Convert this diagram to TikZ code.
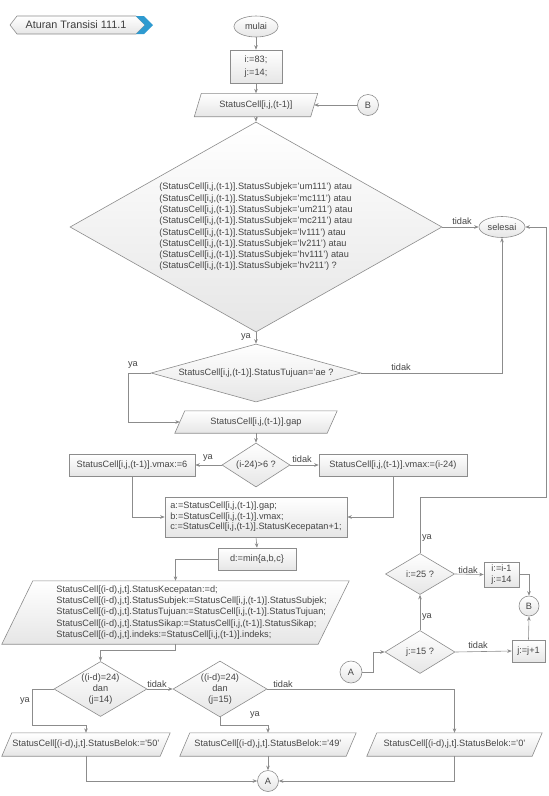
\documentclass[tikz,border=0pt]{standalone}
\usepackage{fontspec}
\setmainfont{Liberation Sans}
\usetikzlibrary{shapes.geometric,arrows.meta,backgrounds}
\definecolor{lc}{HTML}{8C8C8C}
\definecolor{tx}{HTML}{454545}
\definecolor{fl}{HTML}{E6E6E6}
\definecolor{bl}{HTML}{2E9AD0}
\newcommand{\fs}{\fontsize{9.2}{11.3}\selectfont}
\begin{document}
\begin{tikzpicture}[x=1pt,y=-1pt,
  base/.style={draw=lc, line width=0.6pt, top color=white, bottom color=fl, text=tx, font=\fs, inner sep=0pt, align=center},
  boxn/.style 2 args={base, rectangle, minimum width=#1, minimum height=#2},
  term/.style 2 args={base, ellipse, minimum width=#1, minimum height=#2},
  con/.style={base, circle, minimum size=#1},
  dia/.style n args={3}{base, diamond, minimum width=#1, minimum height=#2, aspect=#3},
  paran/.style 2 args={text=tx, font=\fs, inner sep=0pt, align=center, minimum width=#1, minimum height=#2},
  parafill/.style={draw=lc, line width=0.6pt, top color=white, bottom color=fl},
  conn/.style={draw=lc, line width=0.6pt},
  arr/.style={conn, -{Stealth[length=4.5pt,width=3.6pt]}},
  lab/.style={text=tx, font=\fs, inner sep=0pt},
]
\useasboundingbox (0,0) rectangle (549,796);

% title tag
\node[text=tx!90!black, font=\fontsize{10.8}{12}\selectfont, inner sep=0pt] (title) at (76,25) {Aturan Transisi 111.1};

% main column
\node[term={44}{21}] (mulai) at (256,26.5) {mulai};
\node[boxn={52}{33}, font=\fontsize{9.2}{12.5}\selectfont] (init) at (256,66.5) {i:=83;\\j:=14;};
\node[paran={116}{23}] (p0) at (256,105) {StatusCell[i,j,(t-1)]};
\node[con=21] (B1) at (368,105) {B};
\node[dia={372}{210}{1.77}, align=left] (d1) at (256,227) {(StatusCell[i,j,(t-1)].StatusSubjek='um111') atau\\(StatusCell[i,j,(t-1)].StatusSubjek='mc111') atau\\(StatusCell[i,j,(t-1)].StatusSubjek='um211') atau\\(StatusCell[i,j,(t-1)].StatusSubjek='mc211') atau\\(StatusCell[i,j,(t-1)].StatusSubjek='lv111') atau\\(StatusCell[i,j,(t-1)].StatusSubjek='lv211') atau\\(StatusCell[i,j,(t-1)].StatusSubjek='hv111') atau\\(StatusCell[i,j,(t-1)].StatusSubjek='hv211') ?};
\node[term={46}{21}] (sel) at (502,227) {selesai};
\node[dia={210}{58}{3.6}] (d2) at (256,373) {StatusCell[i,j,(t-1)].StatusTujuan='ae ?};
\node[paran={152}{22}] (gap) at (256,422) {StatusCell[i,j,(t-1)].gap};
\node[dia={68}{44}{1.55}] (d3) at (256,465) {(i-24)>6 ?};
\node[boxn={126}{22}] (v6) at (132,465) {StatusCell[i,j,(t-1)].vmax:=6};
\node[boxn={148}{22}] (vi) at (393,465) {StatusCell[i,j,(t-1)].vmax:=(i-24)};
\node[boxn={182}{40}, align=left, font=\fontsize{9.2}{10.5}\selectfont] (abc) at (256,517) {a:=StatusCell[i,j,(t-1)].gap;\\b:=StatusCell[i,j,(t-1)].vmax;\\c:=StatusCell[i,j,(t-1)].StatusKecepatan+1;};
\node[boxn={78}{22}] (dmin) at (257,559) {d:=min\{a,b,c\}};
\node[paran={316}{63}] (bigp) at (175.5,612.5) {\hspace*{32pt}\begin{tabular}{@{}l@{}}StatusCell[(i-d),j,t].StatusKecepatan:=d;\\StatusCell[(i-d),j,t].StatusSubjek:=StatusCell[i,j,(t-1)].StatusSubjek;\\StatusCell[(i-d),j,t].StatusTujuan:=StatusCell[i,j,(t-1)].StatusTujuan;\\StatusCell[(i-d),j,t].StatusSikap:=StatusCell[i,j,(t-1)].StatusSikap;\\StatusCell[(i-d),j,t].indeks:=StatusCell[i,j,(t-1)].indeks;\end{tabular}};
\node[dia={93}{55}{1.66}, font=\fontsize{9.2}{11}\selectfont] (d4) at (100.5,689) {((i-d)=24)\\dan\\(j=14)};
\node[dia={94}{56}{1.66}, font=\fontsize{9.2}{11}\selectfont] (d5) at (220,689) {((i-d)=24)\\dan\\(j=15)};
\node[paran={158}{23}] (p1) at (86,744.5) {StatusCell[(i-d),j,t].StatusBelok:='50'};
\node[paran={166}{23}] (p2) at (268,744.5) {StatusCell[(i-d),j,t].StatusBelok:='49'};
\node[paran={165}{23}] (p3) at (454.5,744.5) {StatusCell[(i-d),j,t].StatusBelok:='0'};
\node[con=21] (A2) at (268,781) {A};

% right loop
\node[dia={69}{41}{1.68}] (i25) at (420,574) {i:=25 ?};
\node[boxn={35}{25}, align=left, font=\fontsize{9.2}{11}\selectfont] (ii) at (501.5,574.5) {i:=i-1\\j:=14};
\node[con=20] (B2) at (529,606) {B};
\node[dia={70}{43}{1.63}] (j15) at (420,652) {j:=15 ?};
\node[boxn={33}{22}] (jj) at (528.5,651) {j:=j+1};
\node[con=22] (A1) at (351,672) {A};

% bend coordinates
\coordinate (k1) at (128,373);
\coordinate (k2) at (175.5,650);
\coordinate (k3) at (32,725);
\coordinate (k4) at (268,725);
\coordinate (kA) at (373,672);
\coordinate (kR) at (546,497);

% background shapes
\begin{scope}[on background layer]
  \foreach \n/\s in {p0/3.5,gap/5,bigp/15.5,p1/5,p2/5,p3/5}{
    \path[parafill] ([xshift=\s pt]\n.north west) -- ([xshift=\s pt]\n.north east) -- ([xshift=-\s pt]\n.south east) -- ([xshift=-\s pt]\n.south west) -- cycle;
  }
  \path[draw=lc, line width=0.6pt, top color=white, bottom color=fl] (10,25) -- (17,16) -- (136,16) -- (145,25) -- (136,34) -- (17,34) -- cycle;
  \path[fill=bl] (136,16) -- (144,16) -- (153,25) -- (144,34) -- (136,34) -- (145,25) -- cycle;
\end{scope}

% connectors
\draw[arr] (mulai.south) -- (init.north);
\draw[arr] (init.south) -- (p0.north);
\draw[arr] (B1.west) -- (p0.east);
\draw[arr] (p0.south) -- (d1.north);
\draw[arr] (d1.east) -- (sel.west);
\draw[arr] (d1.south) -- (d2.north);
\draw[arr] (d2.west) -- (k1) |- (gap.west);
\draw[arr] (d2.east) -| (sel.south);
\draw[arr] (gap.south) -- (d3.north);
\draw[arr] (d3.west) -- (v6.east);
\draw[arr] (d3.east) -- (vi.west);
\draw[arr] (v6.south) |- (abc.west);
\draw[arr] (vi.south) |- (abc.east);
\draw[arr] (abc.south) -- (dmin.north);
\draw[arr] (dmin.west) -| (bigp.north);
\draw[arr] (bigp.south) -- (k2) -| (d4.north);
\draw[arr] (d4.east) -- (d5.west);
\draw[arr] (d4.west) -| (k3) -| (p1.north);
\draw[arr] (d5.south) |- (k4) -- (p2.north);
\draw[arr] (d5.east) -| (p3.north);
\draw[arr] (p1.south) |- (A2.west);
\draw[arr] (p2.south) -- (A2.north);
\draw[arr] (p3.south) |- (A2.east);
\draw[arr] (A1.east) -- (kA) |- (j15.west);
\draw[arr] (j15.north) -- (i25.south);
\draw[arr] (j15.east) -- (jj.west);
\draw[arr] (jj.north) -- (B2.south);
\draw[arr] (i25.east) -- (ii.west);
\draw[arr] (ii.east) -| (B2.north);
\draw[arr] (i25.north) |- (kR) |- (sel.east);

% labels
\node[lab] (l1) at (246,337) {ya};
\node[lab] (l2) at (462,221) {tidak};
\node[lab] (l3) at (133,365) {ya};
\node[lab] (l4) at (401,367) {tidak};
\node[lab] (l5) at (208,458) {ya};
\node[lab] (l6) at (302,459) {tidak};
\node[lab] (l7) at (157,684) {tidak};
\node[lab] (l8) at (25,701) {ya};
\node[lab] (l9) at (255,715) {ya};
\node[lab] (l10) at (283,684) {tidak};
\node[lab] (l11) at (427,617) {ya};
\node[lab] (l12) at (427,538) {ya};
\node[lab] (l13) at (468,570) {tidak};
\node[lab] (l14) at (478,645) {tidak};
\end{tikzpicture}
\end{document}
